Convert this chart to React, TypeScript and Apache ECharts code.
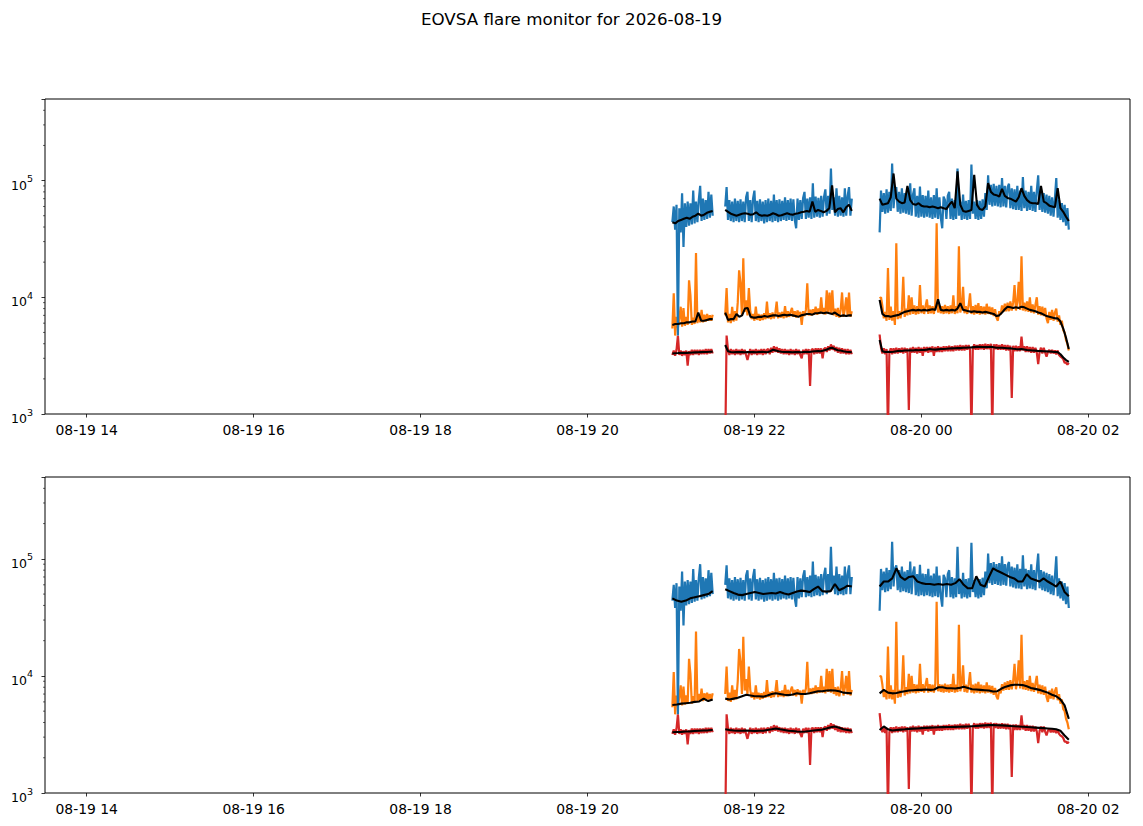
import React, { useEffect, useRef } from "react";
import * as echarts from "echarts";

const TITLE = "EOVSA flare monitor for 2026-08-19";
const X_MIN = 810;
const X_MAX = 1590;
const X_TICKS = [840, 960, 1080, 1200, 1320, 1440, 1560];
const Y_MIN = 1000;
const Y_MAX = 500000;
const Y_MINOR = [2000, 3000, 4000, 5000, 6000, 7000, 8000, 9000, 20000, 30000, 40000, 50000, 60000, 70000, 80000, 90000, 200000, 300000, 400000];

// minutes since 08-19 00:00
const SEG_START = [1261, 1299, 1410];
const SEG_END = [1290, 1390, 1546];

const blueS1 = [44000, 60000, 38000, 62000, 4700, 58000, 36000, 78000, 27000, 64000, 40000, 66000, 41000, 64000, 42000, 82000, 43000, 66000, 44000, 68000, 90000, 45000, 70000, 46000, 68000, 47000, 80000, 48000, 76000, 50000];
const blueS2 = [60000, 88000, 46000, 68000, 45000, 66000, 44000, 70000, 45000, 67000,
  44000, 69000, 45000, 66000, 44000, 72000, 80000, 45000, 68000, 44000,
  70000, 82000, 45000, 67000, 44000, 69000, 45000, 66000, 43000, 68000,
  44000, 70000, 45000, 67000, 44000, 76000, 45000, 68000, 44000, 69000,
  45000, 67000, 46000, 72000, 45000, 68000, 46000, 70000, 45000, 69000,
  46000, 39000, 70000, 46000, 68000, 47000, 71000, 80000, 47000, 70000,
  48000, 72000, 47000, 95000, 48000, 73000, 49000, 71000, 48000, 74000,
  49000, 72000, 84000, 50000, 74000, 52000, 127000, 56000, 72000, 50000,
  86000, 49000, 74000, 50000, 72000, 49000, 86000, 50000, 74000, 88000,
  50000, 70000];
const blueS3 = [36000, 82000, 54000, 78000, 52000, 84000, 53000, 80000, 55000, 140000,
  58000, 82000, 88000, 54000, 80000, 52000, 86000, 53000, 78000, 52000,
  80000, 51000, 95000, 50000, 76000, 86000, 49000, 74000, 48000, 89000,
  49000, 75000, 48000, 74000, 49000, 82000, 48000, 72000, 47000, 75000,
  48000, 86000, 47000, 72000, 48000, 39000, 73000, 68000, 47000, 74000,
  80000, 47000, 70000, 46000, 68000, 47000, 127000, 50000, 66000, 46000,
  76000, 47000, 67000, 46000, 68000, 47000, 137000, 52000, 66000, 47000,
  68000, 46000, 67000, 47000, 69000, 49000, 78000, 56000, 111000, 62000,
  92000, 60000, 94000, 61000, 90000, 60000, 92000, 59000, 105000, 60000,
  90000, 59000, 88000, 94000, 58000, 86000, 57000, 84000, 56000, 90000,
  56000, 82000, 55000, 107000, 58000, 82000, 55000, 80000, 56000, 90000,
  55000, 80000, 54000, 82000, 111000, 56000, 80000, 54000, 78000, 53000,
  76000, 52000, 74000, 50000, 72000, 49000, 70000, 105000, 48000, 68000,
  46000, 64000, 44000, 62000, 41000, 58000, 38000];

const orangeS1 = [5400, 10800, 4700, 6800, 5500, 6600, 8300, 5600, 8100, 5700, 6800, 5800, 14000, 10400, 5800, 6700, 5900, 24000, 6000, 7000, 6100, 7800, 6100, 7100, 6200, 7200, 6300, 7000, 6300, 7100];
const orangeS2 = [7000, 12000, 6100, 7200, 6000, 8300, 6200, 7600, 6300, 9000,
  17000, 13200, 7000, 21600, 7500, 9400, 7000, 12000, 7600, 6500,
  7200, 6300, 8300, 6400, 7200, 6300, 7100, 6400, 7300, 6500,
  9200, 6600, 7300, 6500, 7400, 6600, 7300, 9200, 6600, 7400,
  6700, 7500, 6600, 8400, 6700, 7600, 6800, 7500, 8100, 6800,
  7600, 6700, 7700, 6900, 7500, 5800, 7600, 6900, 7800, 13200,
  7000, 7800, 7000, 7900, 7100, 8300, 7100, 8000, 7200, 10000,
  7200, 8100, 7100, 11500, 7300, 11000, 7200, 11500, 7000, 8000,
  6800, 8100, 6700, 7800, 11000, 6800, 7900, 10000, 6900, 11000,
  6800, 7600];
const orangeS3 = [9800, 10000, 8400, 6600, 7500, 6300, 17800, 6400, 8300, 6300,
  7600, 5800, 29000, 6500, 7600, 6600, 7800, 15000, 6800, 8000,
  7000, 10400, 7100, 10000, 7200, 8500, 7100, 8400, 7200, 12700,
  7300, 8500, 7200, 8400, 9600, 7200, 8500, 7300, 8400, 7200,
  8600, 43000, 7400, 8500, 7300, 8400, 7200, 8600, 7300, 8400,
  7200, 8500, 7300, 10400, 7200, 8400, 7300, 27400, 7400, 8500,
  12300, 7300, 8400, 7200, 8500, 10800, 7200, 8400, 7100, 8600,
  7200, 8900, 7100, 8400, 7200, 8300, 7100, 8800, 7200, 8300,
  7100, 8200, 6900, 7900, 6700, 6300, 7600, 7100, 8500, 7500,
  8800, 7600, 9000, 7600, 9200, 7700, 9000, 12700, 7700, 9100,
  13600, 7800, 22500, 7700, 9000, 7600, 9200, 7500, 10000, 7400,
  8700, 7300, 8600, 10000, 7100, 8400, 7000, 8300, 6900, 8100,
  6600, 6000, 7500, 6400, 7800, 6300, 7400, 8000, 6200, 7000,
  5800, 6300, 5200, 5000, 4300, 4000, 3500];

const redS1 = [3200, 3500, 3150, 3550, 4700, 3200, 3500, 3150, 3450, 3200, 3500, 2600, 3450, 3200, 3550, 3200, 3550, 3250, 3550, 3200, 3550, 3250, 3550, 3250, 3600, 3250, 3600, 3300, 3600, 3300];
const redS2 = [500, 4700, 3550, 3200, 3600, 3250, 3550, 3200, 3600, 3250,
  3550, 3200, 3600, 3250, 3550, 3200, 2900, 3250, 3600, 3200,
  3550, 3250, 3600, 3200, 3550, 3250, 3600, 3200, 3600, 3250,
  3550, 3600, 3250, 3700, 3350, 3800, 3400, 3750, 3350, 3650,
  3300, 3600, 3250, 3600, 3250, 3550, 3200, 3600, 3250, 3550,
  3200, 3600, 3250, 3550, 3200, 3000, 3550, 3250, 3600, 3250,
  3600, 1740, 3550, 3600, 3250, 3650, 3300, 3650, 3300, 3650,
  3000, 3600, 3700, 3400, 3800, 3500, 3950, 3550, 3850, 3450,
  3750, 3350, 3700, 3300, 3650, 3300, 3600, 3250, 3600, 3250,
  3550, 3250];
const redS3 = [4800, 3700, 3300, 3650, 3250, 3600, 700, 3300, 3650, 3250,
  3650, 3300, 3700, 3300, 3650, 3350, 3700, 3300, 3700, 3350,
  3650, 1080, 3700, 3350, 3750, 3350, 3700, 3300, 3750, 3350,
  3700, 3150, 3750, 3400, 3750, 3350, 3750, 3400, 3800, 3150,
  3750, 3400, 3800, 3400, 3750, 3400, 3800, 3450, 3800, 3450,
  3850, 3450, 3800, 3450, 3850, 3500, 3850, 3500, 3900, 3500,
  3850, 3500, 3900, 3550, 3900, 3550, 700, 3600, 3950, 3550,
  3900, 3550, 3950, 3600, 3950, 3550, 4000, 3600, 3950, 3600,
  4000, 700, 3950, 3600, 3950, 3550, 3900, 3550, 3950, 3550,
  3900, 3500, 3900, 3500, 3850, 1370, 3850, 3450, 3850, 3450,
  3800, 3450, 4600, 3500, 3800, 3400, 3800, 3400, 3750, 3350,
  3750, 3350, 3700, 3350, 2670, 3400, 3700, 3300, 3700, 3350,
  3100, 3400, 3550, 3300, 3550, 3300, 3500, 3250, 3500, 3200,
  3100, 3050, 2950, 2750, 2750, 2650, 2750];

// upper panel: short-window running level (black)
const blueFastS1 = [44000, 43000, 45000, 46000, 47000, 48000, 47000, 49000, 50000, 52000, 50000, 51000, 53000, 54000, 55000];
const blueFastS2 = [56000, 54000, 52000, 51000, 50000, 51000, 52000, 52500, 52000, 51000,
  51500, 53500, 51000, 50000, 50500, 50000, 51000, 52500, 51500, 50000,
  50500, 51500, 52500, 51500, 51000, 52000, 52500, 53500, 54000, 55000,
  54000, 66000, 54000, 56000, 55000, 53500, 55000, 58000, 91000, 53500,
  57000, 58000, 53500, 59000, 62000, 55000];
const blueFastS3 = [70000, 62000, 63000, 64000, 72000, 115000, 70000, 66000, 64000, 65000,
  90000, 68000, 63000, 62000, 64000, 61000, 60000, 60000, 59000, 60000,
  59000, 58000, 59000, 58000, 57000, 62000, 66000, 58000, 120000, 62000,
  55000, 54000, 55000, 56000, 112000, 62000, 57000, 56000, 60000, 95000,
  80000, 76000, 75000, 73000, 85000, 74000, 71000, 70000, 68000, 66000,
  72000, 86000, 74000, 68000, 65000, 64000, 64000, 63000, 90000, 66000,
  64000, 61000, 60000, 59000, 86000, 58000, 54000, 49000, 45000];
const orangeFastS1 = [5800, 5900, 5900, 6000, 6000, 6100, 6100, 6200, 6200, 7400, 6300, 6300, 6400, 6500, 6500];
const orangeFastS2 = [7400, 6400, 6500, 6500, 7200, 6800, 7000, 8000, 8100, 6800,
  6700, 6700, 6800, 6800, 6900, 6800, 6900, 7000, 7000, 6900,
  7000, 7100, 7000, 7100, 7000, 6900, 6800, 7000, 7100, 7200,
  7200, 7100, 7300, 7300, 7400, 7300, 7400, 7300, 7200, 7400,
  7100, 6900, 7000, 6900, 7000, 7000];
const orangeFastS3 = [9500, 7200, 6900, 6900, 6800, 6900, 7000, 7100, 7300, 7500,
  7600, 7700, 7800, 7700, 7800, 7700, 7800, 7700, 7800, 7900,
  7800, 9600, 7800, 7700, 7800, 7700, 7800, 7700, 8000, 8900,
  7800, 7700, 7600, 7500, 7600, 7500, 7500, 7400, 7500, 7400,
  7300, 7200, 6900, 7000, 7400, 7900, 8300, 8200, 8100, 8200,
  8100, 8300, 8200, 8000, 7800, 7700, 7600, 7400, 7300, 7100,
  6900, 6800, 6700, 6600, 6600, 6200, 5400, 4500, 3600];
const redFastS1 = [3300, 3320, 3330, 3350, 3330, 3340, 3350, 3360, 3370, 3380, 3390, 3400, 3400, 3410, 3420];
const redFastS2 = [3900, 3450, 3400, 3380, 3400, 3390, 3400, 3380, 3400, 3390,
  3400, 3380, 3400, 3420, 3400, 3380, 3450, 3550, 3500, 3450,
  3420, 3400, 3400, 3390, 3380, 3400, 3390, 3380, 3400, 3420,
  3400, 3430, 3450, 3470, 3450, 3500, 3550, 3650, 3700, 3600,
  3520, 3500, 3450, 3420, 3400, 3380];
const redFastS3 = [4300, 3450, 3400, 3420, 3400, 3420, 3450, 3480, 3470, 3500,
  3500, 3520, 3500, 3530, 3520, 3540, 3530, 3560, 3600, 3570,
  3560, 3580, 3600, 3610, 3620, 3640, 3650, 3660, 3680, 3670,
  3690, 3700, 3710, 3720, 3740, 3760, 3770, 3750, 3740, 3750,
  3760, 3730, 3700, 3690, 3700, 3680, 3660, 3650, 3620, 3600,
  3590, 3600, 3570, 3540, 3520, 3500, 3490, 3470, 3460, 3450,
  3440, 3430, 3420, 3400, 3390, 3250, 3050, 2900, 2800];

// lower panel: longer-window smoothed level (black)
const blueSlowS1 = [46000, 44000, 43000, 44000, 46000, 47000, 48000, 49000, 50000, 53000];
const blueSlowS2 = [55000, 53000, 51000, 49500, 49000, 50000, 51000, 52000, 51000, 50000, 50500, 51000, 50500, 52000, 50500, 49500, 51000, 52500, 53500, 53000, 52000, 55000, 58000, 53000, 52500, 53000, 61000, 54000, 56000, 59000, 58000];
const blueSlowS3 = [58000, 64000, 64000, 68000, 83000, 70000, 66000, 70000, 71000, 64000, 62000, 61000, 61000, 60000, 61000, 60000, 61000, 60000, 62000, 67000, 60000, 56000, 56000, 71000, 60000, 58000, 70000, 83000, 79000, 76000, 73000, 70000, 68000, 64000, 64000, 74000, 68000, 66000, 64000, 68000, 64000, 61000, 58000, 64000, 52000, 48000];
const orangeSlowS1 = [5650, 5700, 5800, 5850, 5900, 6000, 6050, 6400, 6100, 6300];
const orangeSlowS2 = [6400, 6300, 6400, 6500, 6700, 6900, 6800, 6700, 6700, 6650, 6800, 7000, 7100, 7000, 6900, 6850, 6950, 7100, 7000, 7000, 7100, 7250, 7400, 7400, 7500, 7550, 7500, 7400, 7200, 7150, 7100];
const orangeSlowS3 = [7100, 7600, 7200, 7100, 7150, 7300, 7400, 7500, 7550, 7600, 7600, 7650, 7600, 7650, 8000, 8000, 7850, 7850, 7800, 7900, 8100, 7900, 7700, 7650, 7600, 7550, 7500, 7350, 7400, 7800, 8100, 8300, 8400, 8400, 8350, 8150, 7900, 7750, 7600, 7400, 7200, 6900, 6700, 6300, 5600, 4300];
const redSlowS1 = [3300, 3320, 3330, 3350, 3360, 3380, 3400, 3420, 3430, 3450];
const redSlowS2 = [3500, 3450, 3420, 3400, 3400, 3420, 3400, 3380, 3400, 3400, 3450, 3500, 3560, 3500, 3450, 3400, 3380, 3350, 3340, 3350, 3380, 3420, 3450, 3480, 3550, 3650, 3700, 3600, 3500, 3450, 3400];
const redSlowS3 = [3450, 3700, 3500, 3420, 3450, 3480, 3500, 3530, 3550, 3560, 3580, 3600, 3620, 3630, 3640, 3650, 3660, 3660, 3670, 3680, 3690, 3700, 3720, 3740, 3760, 3780, 3800, 3800, 3790, 3780, 3760, 3740, 3720, 3700, 3680, 3660, 3640, 3620, 3600, 3580, 3560, 3540, 3500, 3400, 3100, 2850];

const C_BLUE = "#1f77b4";
const C_ORANGE = "#ff7f0e";
const C_RED = "#d62728";
const FONT = "DejaVu Sans";

function build(segs: number[][]) {
  const out: any[] = [];
  segs.forEach((vals, s) => {
    const step = (SEG_END[s] - SEG_START[s]) / (vals.length - 1);
    vals.forEach((v, i) => out.push([SEG_START[s] + i * step, v]));
    if (s < segs.length - 1) out.push([(SEG_END[s] + SEG_START[s + 1]) / 2, "-"]);
  });
  return out;
}

function fmtX(v: number) {
  const day = v < 1440 ? "19" : "20";
  const hh = String(Math.floor(v / 60) % 24).padStart(2, "0");
  return `08-${day} ${hh}`;
}

function fmtY(v: number) {
  const e = Math.round(Math.log10(v));
  if (Math.abs(Math.pow(10, e) - v) / v > 1e-6) return "";
  return `{b|10}{s|${e}}`;
}

export default function App() {
  const ref = useRef<HTMLDivElement>(null);
  useEffect(() => {
    document.body.style.margin = "0";
    const chart = echarts.init(ref.current as HTMLDivElement, null, { renderer: "svg" });

    const grids = [
      { left: 45, top: 99, width: 1085, height: 315 },
      { left: 45, top: 477, width: 1085, height: 316 },
    ];

    const xAxes = grids.map((_, g) => ({
      type: "value",
      gridIndex: g,
      min: X_MIN,
      max: X_MAX,
      splitLine: { show: false },
      axisLine: { show: false, onZero: false },
      axisTick: { show: true, length: 3.5, lineStyle: { color: "#000", width: 0.8 }, customValues: X_TICKS },
      axisLabel: { customValues: X_TICKS, formatter: fmtX, margin: 9, color: "#000", fontSize: 13.9, fontFamily: FONT },
    }));

    const yAxes = grids.map((_, g) => ({
      type: "log",
      logBase: 10,
      gridIndex: g,
      min: Y_MIN,
      max: Y_MAX,
      splitLine: { show: false },
      axisLine: { show: false, onZero: false },
      axisTick: { show: true, length: 3.5, lineStyle: { color: "#000", width: 0.8 } },
      axisLabel: {
        formatter: fmtY,
        margin: 12,
        padding: [4, 0, 0, 0],
        rich: {
          b: { fontSize: 12.5, fontFamily: FONT, color: "#000", lineHeight: 18, verticalAlign: "bottom" },
          s: { fontSize: 9.5, fontFamily: FONT, color: "#000", lineHeight: 10, verticalAlign: "top" },
        },
      },
    }));

    const line = (g: number, data: any[], color: string, width: number) => ({
      type: "line",
      xAxisIndex: g,
      yAxisIndex: g,
      data,
      symbol: "none",
      showSymbol: false,
      connectNulls: false,
      silent: true,
      lineStyle: { color, width },
      itemStyle: { color },
    });

    const minorTicks = (g: number) => ({
      type: "custom",
      xAxisIndex: g,
      yAxisIndex: g,
      clip: false,
      silent: true,
      data: Y_MINOR.map((v) => [X_MIN, v]),
      renderItem: (params: any, api: any) => {
        const p = api.coord([api.value(0), api.value(1)]);
        return {
          type: "line",
          shape: { x1: p[0] - 2, y1: p[1], x2: p[0], y2: p[1] },
          style: { stroke: "#000", lineWidth: 0.6 },
        };
      },
    });

    const blue = build([blueS1, blueS2, blueS3]);
    const orange = build([orangeS1, orangeS2, orangeS3]);
    const red = build([redS1, redS2, redS3]);

    const series: any[] = [];
    const fast = [build([orangeFastS1, orangeFastS2, orangeFastS3]), build([redFastS1, redFastS2, redFastS3]), build([blueFastS1, blueFastS2, blueFastS3])];
    const slow = [build([orangeSlowS1, orangeSlowS2, orangeSlowS3]), build([redSlowS1, redSlowS2, redSlowS3]), build([blueSlowS1, blueSlowS2, blueSlowS3])];
    [fast, slow].forEach((blacks, g) => {
      series.push(line(g, orange, C_ORANGE, 2.2));
      series.push(line(g, red, C_RED, 2.2));
      series.push(line(g, blue, C_BLUE, 2.2));
      blacks.forEach((d) => series.push(line(g, d, "#000", 2.1)));
      series.push(minorTicks(g));
    });

    chart.setOption({
      animation: false,
      backgroundColor: "#fff",
      title: {
        text: TITLE,
        left: "center",
        top: 5,
        textStyle: { fontSize: 16.7, fontWeight: "normal", fontFamily: FONT, color: "#000" },
      },
      grid: grids.map((g) => ({ ...g, show: true, borderColor: "#000", borderWidth: 1, backgroundColor: "transparent" })),
      xAxis: xAxes,
      yAxis: yAxes,
      series,
    });
    return () => chart.dispose();
  }, []);
  return <div ref={ref} style={{ width: 1143, height: 826 }} />;
}
